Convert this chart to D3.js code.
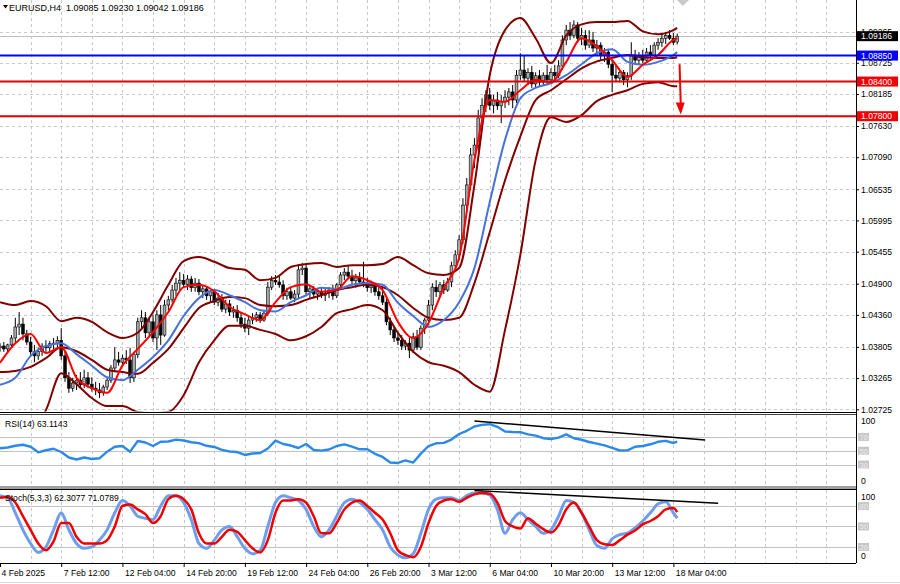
<!DOCTYPE html>
<html><head><meta charset="utf-8">
<script src="https://cdn.jsdelivr.net/npm/d3@7"></script>
<style>
body{margin:0;background:#fff;}
svg{display:block;font-family:"Liberation Sans",Arial,sans-serif;}
</style>
</head><body>
<svg id="c" width="900" height="584"></svg>
<script>
// ---------------- DATA ----------------
const symbolTitle = "EURUSD,H4  1.09085 1.09230 1.09042 1.09186";
const openP = [1.0379,1.0382,1.0377,1.0384,1.0396,1.0415,1.0420,1.0403,1.0389,1.0372,
1.0365,1.0373,1.0382,1.0379,1.0386,1.0387,1.0392,1.0365,1.0327,1.0309,
1.0318,1.0323,1.0315,1.0327,1.0316,1.0309,1.0306,1.0301,1.0311,1.0323,
1.0344,1.0358,1.0354,1.0361,1.0358,1.0327,1.0367,1.0424,1.0431,1.0405,
1.0424,1.0396,1.0436,1.0401,1.0453,1.0462,1.0479,1.0491,1.0496,1.0489,
1.0498,1.0483,1.0491,1.0476,1.0481,1.0469,1.0476,1.0458,1.0465,1.0446,
1.0455,1.0441,1.0444,1.0431,1.0420,1.0413,1.0427,1.0431,1.0436,1.0427,
1.0439,1.0484,1.0496,1.0493,1.0488,1.0469,1.0476,1.0465,1.0472,1.0514,
1.0517,1.0476,1.0481,1.0472,1.0476,1.0470,1.0474,1.0479,1.0469,1.0488,
1.0505,1.0510,1.0503,1.0495,1.0500,1.0493,1.0489,1.0483,1.0486,1.0476,
1.0469,1.0458,1.0424,1.0410,1.0396,1.0392,1.0382,1.0387,1.0375,1.0398,
1.0380,1.0413,1.0427,1.0453,1.0484,1.0476,1.0488,1.0479,1.0493,1.0521,
1.0540,1.0566,1.0626,1.0661,1.0713,1.0730,1.0777,1.0799,1.0817,1.0799,
1.0808,1.0798,1.0805,1.0813,1.0822,1.0808,1.0851,1.0860,1.0846,1.0856,
1.0836,1.0850,1.0839,1.0851,1.0843,1.0856,1.0850,1.0867,1.0912,1.0929,
1.0920,1.0938,1.0915,1.0920,1.0903,1.0912,1.0898,1.0903,1.0886,1.0891,
1.0870,1.0851,1.0846,1.0856,1.0843,1.0850,1.0886,1.0877,1.0884,1.0877,
1.0891,1.0886,1.0903,1.0908,1.0915,1.0920,1.0915,1.09085];
const highP = [1.0387,1.0389,1.0386,1.0401,1.0431,1.0441,1.0431,1.0410,1.0398,1.0384,
1.0379,1.0387,1.0392,1.0391,1.0396,1.0399,1.0413,1.0372,1.0337,1.0327,
1.0332,1.0337,1.0341,1.0337,1.0328,1.0320,1.0318,1.0315,1.0327,1.0349,
1.0380,1.0372,1.0367,1.0375,1.0379,1.0372,1.0431,1.0444,1.0441,1.0431,
1.0436,1.0444,1.0453,1.0462,1.0469,1.0488,1.0500,1.0510,1.0507,1.0505,
1.0503,1.0500,1.0498,1.0488,1.0486,1.0479,1.0481,1.0474,1.0472,1.0462,
1.0462,1.0451,1.0453,1.0441,1.0431,1.0434,1.0439,1.0441,1.0441,1.0444,
1.0493,1.0503,1.0505,1.0503,1.0496,1.0483,1.0484,1.0479,1.0522,1.0526,
1.0522,1.0488,1.0486,1.0483,1.0483,1.0481,1.0484,1.0488,1.0491,1.0510,
1.0517,1.0521,1.0514,1.0507,1.0510,1.0528,1.0500,1.0495,1.0491,1.0486,
1.0483,1.0465,1.0431,1.0417,1.0406,1.0401,1.0392,1.0396,1.0405,1.0410,
1.0418,1.0431,1.0462,1.0491,1.0496,1.0493,1.0496,1.0500,1.0528,1.0548,
1.0574,1.0638,1.0673,1.0725,1.0742,1.0791,1.0811,1.0825,1.0829,1.0817,
1.0822,1.0817,1.0825,1.0829,1.0834,1.0860,1.0889,1.0886,1.0863,1.0867,
1.0856,1.0860,1.0856,1.0869,1.0863,1.0869,1.0877,1.0920,1.0938,1.0943,
1.0946,1.0943,1.0933,1.0929,1.0929,1.0926,1.0912,1.0908,1.0898,1.0895,
1.0877,1.0867,1.0860,1.0860,1.0856,1.0908,1.0895,1.0891,1.0895,1.0898,
1.0903,1.0908,1.0915,1.0924,1.0926,1.0929,1.0924,1.09230];
const lowP = [1.0372,1.0372,1.0370,1.0379,1.0389,1.0401,1.0392,1.0384,1.0367,1.0354,
1.0358,1.0365,1.0372,1.0372,1.0375,1.0379,1.0358,1.0320,1.0301,1.0303,
1.0306,1.0309,1.0309,1.0309,1.0303,1.0297,1.0292,1.0296,1.0306,1.0318,
1.0337,1.0348,1.0346,1.0351,1.0318,1.0320,1.0361,1.0410,1.0396,1.0399,
1.0389,1.0375,1.0384,1.0398,1.0444,1.0457,1.0469,1.0479,1.0483,1.0479,
1.0476,1.0476,1.0470,1.0465,1.0462,1.0458,1.0453,1.0451,1.0441,1.0439,
1.0434,1.0431,1.0424,1.0413,1.0406,1.0401,1.0420,1.0424,1.0422,1.0424,
1.0434,1.0479,1.0488,1.0483,1.0462,1.0462,1.0462,1.0458,1.0465,1.0505,
1.0470,1.0465,1.0467,1.0462,1.0465,1.0460,1.0465,1.0462,1.0465,1.0483,
1.0496,1.0500,1.0488,1.0483,1.0489,1.0484,1.0476,1.0474,1.0469,1.0462,
1.0453,1.0418,1.0401,1.0389,1.0384,1.0375,1.0375,1.0361,1.0370,1.0375,
1.0375,1.0403,1.0418,1.0444,1.0467,1.0469,1.0472,1.0476,1.0484,1.0514,
1.0531,1.0559,1.0614,1.0652,1.0690,1.0721,1.0765,1.0787,1.0791,1.0785,
1.0791,1.0768,1.0794,1.0799,1.0794,1.0803,1.0843,1.0839,1.0834,1.0829,
1.0830,1.0832,1.0834,1.0836,1.0839,1.0843,1.0846,1.0860,1.0903,1.0912,
1.0915,1.0908,1.0903,1.0895,1.0898,1.0891,1.0886,1.0877,1.0874,1.0863,
1.0822,1.0839,1.0839,1.0834,1.0830,1.0843,1.0869,1.0870,1.0872,1.0874,
1.0881,1.0882,1.0895,1.0900,1.0905,1.0912,1.0903,1.09042];
const closeP = [1.0382,1.0377,1.0384,1.0396,1.0415,1.0420,1.0403,1.0389,1.0372,1.0365,
1.0373,1.0382,1.0379,1.0386,1.0387,1.0392,1.0365,1.0327,1.0309,1.0318,
1.0323,1.0315,1.0327,1.0316,1.0309,1.0306,1.0301,1.0311,1.0323,1.0344,
1.0358,1.0354,1.0361,1.0358,1.0327,1.0367,1.0424,1.0431,1.0405,1.0424,
1.0396,1.0436,1.0401,1.0453,1.0462,1.0479,1.0491,1.0496,1.0489,1.0498,
1.0483,1.0491,1.0476,1.0481,1.0469,1.0476,1.0458,1.0465,1.0446,1.0455,
1.0441,1.0444,1.0431,1.0420,1.0413,1.0427,1.0431,1.0436,1.0427,1.0439,
1.0484,1.0496,1.0493,1.0488,1.0469,1.0476,1.0465,1.0472,1.0514,1.0517,
1.0476,1.0481,1.0472,1.0476,1.0470,1.0474,1.0479,1.0469,1.0488,1.0505,
1.0510,1.0503,1.0495,1.0500,1.0493,1.0489,1.0483,1.0486,1.0476,1.0469,
1.0458,1.0424,1.0410,1.0396,1.0392,1.0382,1.0387,1.0375,1.0398,1.0380,
1.0413,1.0427,1.0453,1.0484,1.0476,1.0488,1.0479,1.0493,1.0521,1.0540,
1.0566,1.0626,1.0661,1.0713,1.0730,1.0777,1.0799,1.0817,1.0799,1.0808,
1.0798,1.0805,1.0813,1.0822,1.0808,1.0851,1.0860,1.0846,1.0856,1.0836,
1.0850,1.0839,1.0851,1.0843,1.0856,1.0850,1.0867,1.0912,1.0929,1.0920,
1.0938,1.0915,1.0920,1.0903,1.0912,1.0898,1.0903,1.0886,1.0891,1.0870,
1.0851,1.0846,1.0856,1.0843,1.0850,1.0886,1.0877,1.0884,1.0877,1.0891,
1.0886,1.0903,1.0908,1.0915,1.0920,1.0915,1.0908,1.09186];

// indicator samples (bar index -> value)
const lineBars = [0,4,8,12,16,20,24,28,32,36,40,44,48,52,56,60,64,68,72,76,80,84,88,92,96,100,104,108,112,116,120,124,128,132,136,140,144,148,152,156,160,164,168,172,176,177];
const fastMA = [1.0353,1.0387,1.0403,1.0370,1.0380,1.0327,1.0309,1.0301,1.0348,1.0377,1.0406,1.0441,1.0484,1.0488,1.0477,1.0450,1.0437,1.0427,1.0458,1.0484,1.0489,1.0476,1.0479,1.0503,1.0496,1.0479,1.0424,1.0396,1.0422,1.0483,1.0535,1.0704,1.0808,1.0805,1.0825,1.0843,1.0839,1.0874,1.0915,1.0901,1.0877,1.0848,1.0869,1.0886,1.0912,1.0915];
const slowMA = [1.0315,1.0327,1.0365,1.0382,1.0387,1.0368,1.0348,1.0328,1.0323,1.0341,1.0363,1.0392,1.0434,1.0465,1.0479,1.0470,1.0458,1.0444,1.0442,1.0458,1.0470,1.0483,1.0481,1.0488,1.0491,1.0488,1.0457,1.0434,1.0415,1.0427,1.0458,1.0517,1.0631,1.0739,1.0811,1.0829,1.0837,1.0851,1.0870,1.0889,1.0896,1.0874,1.0869,1.0874,1.0886,1.0891];
const bbUpper = [1.0458,1.0453,1.0460,1.0451,1.0425,1.0431,1.0424,1.0406,1.0396,1.0405,1.0441,1.0488,1.0529,1.0536,1.0528,1.0517,1.0514,1.0496,1.0500,1.0519,1.0524,1.0526,1.0519,1.0522,1.0522,1.0524,1.0536,1.0522,1.0508,1.0505,1.0517,1.0661,1.0851,1.0929,1.0950,1.0915,1.0872,1.0920,1.0939,1.0943,1.0943,1.0945,1.0927,1.0922,1.0929,1.0933];
const bbMiddle = [1.0337,1.0339,1.0346,1.0361,1.0380,1.0373,1.0358,1.0341,1.0337,1.0334,1.0353,1.0377,1.0413,1.0448,1.0460,1.0467,1.0465,1.0453,1.0451,1.0453,1.0462,1.0470,1.0479,1.0484,1.0488,1.0484,1.0470,1.0448,1.0431,1.0427,1.0431,1.0491,1.0579,1.0669,1.0745,1.0808,1.0825,1.0844,1.0863,1.0875,1.0881,1.0886,1.0882,1.0881,1.0881,1.0882];
const bbLower = [1.0216,1.0225,1.0232,1.0271,1.0335,1.0316,1.0292,1.0278,1.0278,1.0268,1.0266,1.0268,1.0297,1.0354,1.0392,1.0417,1.0417,1.0410,1.0403,1.0392,1.0399,1.0415,1.0439,1.0446,1.0453,1.0444,1.0405,1.0372,1.0354,1.0348,1.0337,1.0315,1.0303,1.0410,1.0540,1.0704,1.0778,1.0770,1.0782,1.0806,1.0817,1.0825,1.0836,1.0839,1.0832,1.0832];

// oscillators sampled every 2 bars (0..176) plus last bar 177
const oscBars = [0,2,4,6,8,10,12,14,16,18,20,22,24,26,28,30,32,34,36,38,40,42,44,46,48,50,52,54,56,58,60,62,64,66,68,70,72,74,76,78,80,82,84,86,88,90,92,94,96,98,100,102,104,106,108,110,112,114,116,118,120,122,124,126,128,130,132,134,136,138,140,142,144,146,148,150,152,154,156,158,160,162,164,166,168,170,172,174,176,177];
const rsiValues = [53.5,54.6,57.2,58.6,55.7,47.7,50.7,52.8,48.1,40.1,37.2,40.1,38,39,48.6,55.7,56.8,48.6,64,61.9,56.8,63,63.3,66,64.8,62.3,60.9,57.1,55.4,51.2,48.8,48.1,43.8,45.9,46.7,53.2,64.5,59.7,57.5,53.9,59.7,51,50.1,51.7,56.8,59.1,55.8,52,52,45.5,40.9,32.8,32.2,35.9,32.8,45.8,56.8,60.7,61.4,66.1,74.2,78.8,85.1,87.5,88.4,84.6,77.8,77.1,76.8,73.6,71.9,68.1,67,69,73.6,68,65.9,62.6,60.3,57.7,54.1,50.3,50.4,55.7,56.8,59.3,62.9,64.2,61.2,63.1143];
const stochMain = [95,92,70,45,25,12,20,45,70,45,25,18,20,30,45,70,88,80,65,62,60,80,95,95,85,60,25,18,30,45,50,35,18,10,15,50,85,95,92,88,75,50,35,45,65,85,90,85,75,60,45,20,8,4,10,40,75,90,92,92,88,95,99,99,96,75,40,60,70,60,50,40,45,65,88,85,70,45,22,18,32,38,40,48,58,70,83,86,70,62.3077];
const stochSignal = [92,93,85,65,45,25,15,28,55,55,35,25,25,25,30,50,80,82,75,68,55,65,90,95,90,75,40,25,25,35,45,42,30,18,12,30,70,88,88,90,85,65,40,40,55,75,85,88,80,70,60,40,15,8,5,20,55,80,88,90,86,92,97,99,98,85,58,50,47,62,54,46,41,52,75,85,70,50,30,24,23,30,38,44,53,58,65,75,77,71.0789];

const priceTicks = [1.09265,1.08725,1.08185,1.07630,1.07090,1.06535,1.05995,1.05455,1.04900,1.04360,1.03805,1.03265,1.02725];
const timeLabelBars = [0,16,32,48,64,80,96,112,128,144,160,176];
const timeLabels = ["4 Feb 2025","7 Feb 12:00","12 Feb 04:00","14 Feb 20:00","19 Feb 12:00","24 Feb 04:00","26 Feb 20:00","3 Mar 12:00","6 Mar 04:00","10 Mar 20:00","13 Mar 12:00","18 Mar 04:00"];
const levelPrices = [1.08850,1.08400,1.07800];
const currentPrice = 1.09186;
const rsiLevels = [70,50,30];
const stochLevels = [80,50,20];
const rsiTrend = [[124,93],[184.3,65.5]];
const stochTrend = [[124,103],[187.7,84]];
const arrowBar = 177.8, arrowFrom = 1.0870, arrowTo = 1.0783;

// ---------------- LAYOUT ----------------
const svg = d3.select("#c");
const PR = 856;
const mainB = 411.5;
const rsiT = 415, rsiB = 486;
const stT = 490, stB = 563;

const x = d3.scaleLinear().domain([0,177]).range([0,677.2]);
const y = d3.scaleLinear().domain([1.02725,1.09265]).range([409.3,31.6]);
const yR = d3.scaleLinear().domain([0,100]).range([485.2,416.2]);
const yS = d3.scaleLinear().domain([0,100]).range([560.6,492.3]);

const defs = svg.append("defs");
function clip(id,x0,y0,w,h){defs.append("clipPath").attr("id",id).append("rect").attr("x",x0).attr("y",y0).attr("width",w).attr("height",h);}
clip("cm",0,0,PR,mainB);
clip("cr",0,rsiT,PR,rsiB-rsiT);
clip("cs",0,stT,PR,stB-stT-0.5);

const gridColor = "#c8c8c8";
const gridBars = d3.range(8,240,8).filter(b=>x(b)<PR-2);
[[0,mainB],[rsiT,rsiB],[stT,stB]].forEach(([t,b])=>{
  svg.append("g").selectAll("line").data(gridBars).join("line")
    .attr("x1",d=>Math.round(x(d))+0.5).attr("x2",d=>Math.round(x(d))+0.5)
    .attr("y1",t).attr("y2",b).attr("stroke",gridColor).attr("stroke-dasharray","3,3");
});
svg.append("g").selectAll("line").data(priceTicks).join("line")
  .attr("x1",0).attr("x2",PR).attr("y1",d=>Math.round(y(d))+0.5).attr("y2",d=>Math.round(y(d))+0.5)
  .attr("stroke",gridColor).attr("stroke-dasharray","3,3");

svg.append("line").attr("x1",0).attr("x2",PR).attr("y1",Math.round(y(currentPrice))+0.5).attr("y2",Math.round(y(currentPrice))+0.5)
  .attr("stroke","#c0c0c0");

// ---------------- MAIN ----------------
const gm = svg.append("g").attr("clip-path","url(#cm)");
const bars = d3.range(closeP.length);
gm.append("g").selectAll("line").data(bars).join("line")
  .attr("x1",i=>x(i)).attr("x2",i=>x(i))
  .attr("y1",i=>y(highP[i])).attr("y2",i=>y(lowP[i]))
  .attr("stroke","#000").attr("stroke-width",1);
gm.append("g").selectAll("rect").data(bars).join("rect")
  .attr("x",i=>x(i)-1.4).attr("width",2.8)
  .attr("y",i=>y(Math.max(openP[i],closeP[i])))
  .attr("height",i=>Math.max(0.8,Math.abs(y(openP[i])-y(closeP[i]))))
  .attr("fill",i=>closeP[i]>=openP[i]?"#a9a9a9":"#000")
  .attr("stroke","#000").attr("stroke-width",0.6);

const pairs = (bx,vals)=>bx.map((b,k)=>[b,vals[k]]);
const lineGen = (ys)=>d3.line().x(d=>x(d[0])).y(d=>ys(d[1])).curve(d3.curveMonotoneX);
[bbUpper,bbMiddle,bbLower].forEach(arr=>{
  gm.append("path").attr("d",lineGen(y)(pairs(lineBars,arr))).attr("fill","none")
    .attr("stroke","#800000").attr("stroke-width",2);
});
gm.append("path").attr("d",lineGen(y)(pairs(lineBars,slowMA))).attr("fill","none").attr("stroke","#4672da").attr("stroke-width",2);
gm.append("path").attr("d",lineGen(y)(pairs(lineBars,fastMA))).attr("fill","none").attr("stroke","#ff0000").attr("stroke-width",2);

const levelColors = ["#0000ff","#e00000","#e00000"];
svg.append("g").selectAll("line").data(levelPrices).join("line")
  .attr("x1",0).attr("x2",PR).attr("y1",d=>y(d)).attr("y2",d=>y(d))
  .attr("stroke",(d,i)=>levelColors[i]).attr("stroke-width",2);

svg.append("line").attr("x1",x(arrowBar)-0.7).attr("x2",x(arrowBar)+0.5)
  .attr("y1",y(arrowFrom)).attr("y2",y(arrowTo)-10).attr("stroke","#f00000").attr("stroke-width",2);
svg.append("path").attr("d",`M${x(arrowBar)-4.5},${y(arrowTo)-12} L${x(arrowBar)+4.5},${y(arrowTo)-12} L${x(arrowBar)+0.5},${y(arrowTo)} Z`).attr("fill","#f00000");
svg.append("path").attr("d",`M${x(178.5)-6},0 L${x(178.5)+6},0 L${x(178.5)},6 Z`).attr("fill","#c8c8c8");

// ---------------- RSI ----------------
const gr = svg.append("g").attr("clip-path","url(#cr)");
gr.selectAll("line.lv").data(rsiLevels).join("line").attr("class","lv")
  .attr("x1",0).attr("x2",PR).attr("y1",d=>Math.round(yR(d))+0.5).attr("y2",d=>Math.round(yR(d))+0.5).attr("stroke","#c0c0c0");
gr.append("path").attr("d",d3.line().x(d=>x(d[0])).y(d=>yR(d[1]))(pairs(oscBars,rsiValues)))
  .attr("fill","none").attr("stroke","#2b8ae8").attr("stroke-width",2.4).attr("stroke-linejoin","round");
gr.append("line").attr("x1",x(rsiTrend[0][0])).attr("y1",yR(rsiTrend[0][1])).attr("x2",x(rsiTrend[1][0])).attr("y2",yR(rsiTrend[1][1]))
  .attr("stroke","#000").attr("stroke-width",1.4);

// ---------------- STOCH ----------------
const gs = svg.append("g").attr("clip-path","url(#cs)");
gs.selectAll("line.lv").data(stochLevels).join("line").attr("class","lv")
  .attr("x1",0).attr("x2",PR).attr("y1",d=>Math.round(yS(d))+0.5).attr("y2",d=>Math.round(yS(d))+0.5).attr("stroke","#c0c0c0");
gs.append("path").attr("d",lineGen(yS)(pairs(oscBars,stochMain))).attr("fill","none").attr("stroke","#6e9ded").attr("stroke-width",3);
gs.append("path").attr("d",lineGen(yS)(pairs(oscBars,stochSignal))).attr("fill","none").attr("stroke","#ee0000").attr("stroke-width",2.5);
svg.append("line").attr("x1",x(stochTrend[0][0])).attr("y1",Math.max(stT+0.5,yS(stochTrend[0][1]))).attr("x2",x(stochTrend[1][0])).attr("y2",yS(stochTrend[1][1]))
  .attr("stroke","#000").attr("stroke-width",1.4);

// ---------------- frames ----------------
const frame = svg.append("g").attr("stroke","#000").attr("shape-rendering","crispEdges");
frame.append("line").attr("x1",0).attr("x2",PR).attr("y1",412).attr("y2",412);
frame.append("line").attr("x1",0).attr("x2",PR).attr("y1",414).attr("y2",414).attr("stroke","#444");
svg.append("rect").attr("x",0).attr("y",486).attr("width",PR).attr("height",3).attr("fill","#a0a0a0");
frame.append("line").attr("x1",0).attr("x2",PR).attr("y1",486).attr("y2",486);
frame.append("line").attr("x1",0).attr("x2",PR).attr("y1",489).attr("y2",489);
frame.append("line").attr("x1",0).attr("x2",PR).attr("y1",563).attr("y2",563);
frame.append("line").attr("x1",PR).attr("x2",PR).attr("y1",0).attr("y2",563);
svg.append("line").attr("x1",0).attr("x2",900).attr("y1",582.5).attr("y2",582.5).attr("stroke","#d8d8d8");

// ---------------- axes ----------------
const FS = 8.6;
const ya = svg.append("g").attr("transform",`translate(${PR},0)`)
  .call(d3.axisRight(y).tickValues(priceTicks).tickFormat(d=>d.toFixed(5)).tickSize(3).tickPadding(2));
ya.select(".domain").remove();
ya.selectAll("text").attr("font-size",FS).attr("fill","#000").attr("font-family","Liberation Sans, Arial, sans-serif");
ya.selectAll("line").attr("stroke","#000");

const xa = svg.append("g").attr("transform",`translate(0,${stB})`)
  .call(d3.axisBottom(x).tickValues(timeLabelBars).tickFormat((d,i)=>timeLabels[i]).tickSize(4).tickPadding(3));
xa.select(".domain").remove();
xa.selectAll("text").attr("font-size",FS).attr("fill","#000").attr("text-anchor","start").attr("dx",(d,i)=>i===0?1:2)
  .attr("font-family","Liberation Sans, Arial, sans-serif");
xa.selectAll("line").attr("stroke","#000");

const boxData = [currentPrice].concat(levelPrices);
const boxColors = ["#000","#0000ff","#f00000","#f00000"];
const gb = svg.append("g");
boxData.forEach((p,i)=>{
  gb.append("rect").attr("x",PR+1).attr("y",y(p)-5).attr("width",41).attr("height",10).attr("fill",boxColors[i]);
  gb.append("text").attr("x",PR+5).attr("y",y(p)+3.2).attr("font-size",FS).attr("fill","#fff").text(p.toFixed(5));
});

function oscLabels(sc,levels){
  const g = svg.append("g");
  g.append("text").attr("x",PR+5).attr("y",sc(100)+8).attr("font-size",FS).attr("fill","#000").text("100");
  g.append("text").attr("x",PR+5).attr("y",sc(0)-1.5).attr("font-size",FS).attr("fill","#000").text("0");
  levels.forEach(v=>{
    g.append("rect").attr("x",PR+2).attr("y",sc(v)-4).attr("width",11).attr("height",8).attr("fill","#c6c6c6");
    g.append("text").attr("x",PR+3.5).attr("y",sc(v)+3).attr("font-size",7.5).attr("fill","#eeeeee").text(v);
  });
}
oscLabels(yR,rsiLevels);
oscLabels(yS,stochLevels);

svg.append("path").attr("d","M3,5 L8,5 L5.5,8.5 Z").attr("fill","#000");
svg.append("text").attr("x",9).attr("y",10.5).attr("font-size",9).attr("fill","#000").text(symbolTitle).style("white-space","pre");
svg.append("text").attr("x",5).attr("y",427).attr("font-size",FS).attr("fill","#000").text("RSI(14) 63.1143");
svg.append("text").attr("x",5).attr("y",500.5).attr("font-size",FS).attr("fill","#000").text("Stoch(5,3,3) 62.3077 71.0789");
</script>
</body></html>
